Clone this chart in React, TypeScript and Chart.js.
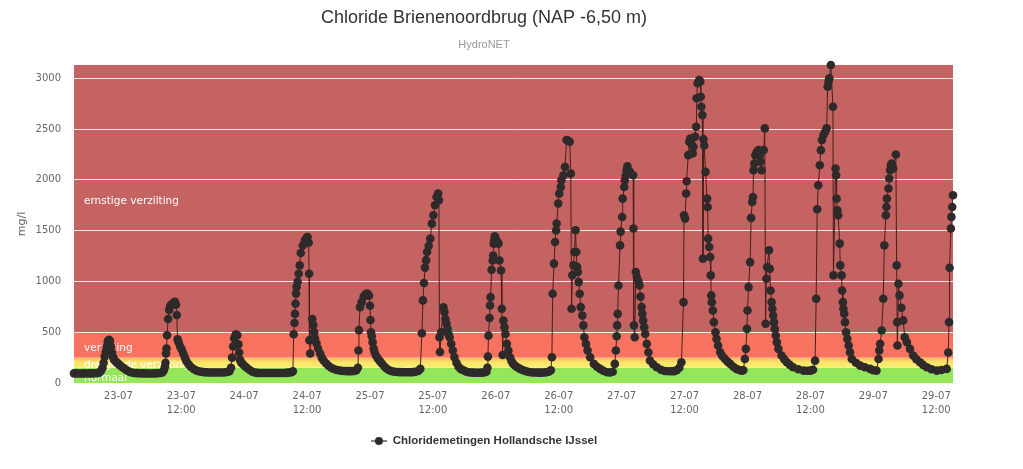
import { useEffect, useRef } from 'react';
import { Chart, registerables } from 'chart.js';

Chart.register(...registerables);

const chartTitle = 'Chloride Brienenoordbrug (NAP -6,50 m)';
const chartSubtitle = 'HydroNET';
const seriesName = 'Chloridemetingen Hollandsche IJssel';
const yAxisTitle = 'mg/l';

// x values: hours relative to 23-07 00:00
const xMin = -8.45;
const xMax = 159.2;
const xTickHours = [0, 12, 24, 36, 48, 60, 72, 84, 96, 108, 120, 132, 144, 156];
const xTickLabels: string[][] = [
  ['23-07'], ['23-07', '12:00'], ['24-07'], ['24-07', '12:00'], ['25-07'], ['25-07', '12:00'],
  ['26-07'], ['26-07', '12:00'], ['27-07'], ['27-07', '12:00'], ['28-07'], ['28-07', '12:00'],
  ['29-07'], ['29-07', '12:00'],
];
const yMin = 0;
const yMax = 3130;
const yTicks = [0, 500, 1000, 1500, 2000, 2500, 3000];

const bandNames = ['normaal', 'dreigende verzilting', 'verzilting', 'ernstige verzilting'];
const bandFrom = [0, 150, 250, 500];
const bandTo = [150, 250, 500, 3130];

// [hour, mg/l]
const dag22: [number, number][] = [
  [-8.45, 95], [-8, 95], [-7.5, 94], [-7, 94], [-6.5, 95], [-6, 94], [-5.5, 95], [-5, 95], [-4.5, 96], [-4, 97],
  [-3.6, 104], [-3.3, 120], [-3, 150], [-2.8, 200], [-2.6, 260], [-2.4, 310], [-2.2, 360], [-2, 410], [-1.8, 425],
  [-1.6, 415], [-1.4, 360], [-1.2, 300], [-1, 255], [-0.8, 230], [-0.5, 212], [-0.2, 198],
];
const dag23: [number, number][] = [
  [0.1, 185], [0.4, 170], [0.8, 155], [1.2, 140], [1.6, 125], [2, 113], [2.5, 104], [3, 99], [3.5, 97], [4, 96],
  [4.5, 95], [5, 95], [5.5, 94], [6, 94], [6.5, 94], [7, 95], [7.5, 96], [8, 98], [8.4, 104], [8.7, 125],
  [8.9, 160], [9, 200], [9.1, 290], [9.2, 340], [9.3, 470], [9.5, 630], [9.7, 720], [9.9, 760], [10.2, 775],
  [10.5, 790], [10.8, 800], [11, 770], [11.15, 670], [11.3, 430], [11.5, 400], [11.8, 360], [12.1, 330],
  [12.4, 290], [12.7, 250], [13, 215], [13.4, 185], [13.8, 160], [14.3, 140], [14.8, 125], [15.3, 116],
  [15.8, 110], [16.3, 107], [16.8, 105], [17.3, 104], [17.8, 103], [18.3, 103], [18.8, 103], [19.3, 103],
  [19.8, 104], [20.3, 105], [20.8, 108], [21.2, 115],
  [21.5, 150], [21.7, 250], [21.9, 360], [22.1, 440], [22.4, 480], [22.7, 470], [22.9, 380], [23.05, 300],
  [23.2, 230], [23.4, 205], [23.7, 188],
];
const dag24: [number, number][] = [
  [24.1, 168], [24.5, 150], [25, 130], [25.5, 113], [26, 104], [26.5, 100], [27, 99], [27.5, 98], [28, 98],
  [28.5, 98], [29, 98], [29.5, 98], [30, 98], [30.5, 98], [31, 99], [31.5, 99], [32, 100], [32.5, 102],
  [33, 106], [33.3, 115],
  [33.45, 480], [33.6, 590], [33.7, 680], [33.8, 780], [33.9, 880], [34, 945], [34.2, 995], [34.4, 1076],
  [34.6, 1158], [34.8, 1280], [35.2, 1354], [35.6, 1404], [35.9, 1430], [36.1, 1437], [36.3, 1380],
  [36.4, 1076], [36.45, 420], [36.6, 290], [36.8, 430], [37, 630], [37.2, 570], [37.35, 500], [37.5, 440],
  [37.8, 390], [38.1, 340], [38.5, 290], [38.8, 250], [39.1, 225], [39.6, 195], [40.1, 170], [40.6, 150],
  [41, 140], [41.5, 130], [42, 125], [42.5, 120], [43, 118], [43.5, 117], [44, 117], [44.5, 117], [45, 118],
  [45.4, 125],
  [45.7, 150], [45.8, 320], [45.9, 520], [46.1, 745], [46.4, 796], [46.8, 850], [47.2, 875], [47.5, 880],
  [47.8, 860],
];
const dag25: [number, number][] = [
  [48, 760], [48.1, 620], [48.2, 500], [48.35, 460], [48.5, 400], [48.7, 340], [48.9, 300], [49.2, 265],
  [49.5, 240], [49.9, 215], [50.3, 190], [50.8, 160], [51.2, 140], [51.7, 125], [52.2, 115], [52.7, 110],
  [53.2, 108], [53.7, 107], [54.2, 106], [54.7, 106], [55.2, 106], [55.7, 106], [56.2, 107], [56.7, 110],
  [57.2, 118], [57.6, 139],
  [57.9, 490], [58.1, 813], [58.3, 984], [58.5, 1136], [58.7, 1209], [58.9, 1289], [59.2, 1350], [59.5, 1421],
  [59.8, 1569], [60.1, 1651], [60.4, 1750], [60.7, 1831], [61, 1864], [61.15, 1800], [61.25, 450], [61.35, 305],
  [61.6, 500], [62, 746], [62.2, 700], [62.4, 630], [62.6, 583], [62.8, 533], [63, 480], [63.2, 451],
  [63.5, 385], [63.8, 320], [64.1, 254], [64.5, 200], [64.9, 160], [65.3, 139], [65.8, 125], [66.3, 113],
  [66.8, 106], [67.3, 103], [67.8, 102], [68.3, 101], [68.8, 101], [69.3, 102], [69.8, 104], [70.2, 110],
  [70.4, 150], [70.5, 260], [70.6, 466], [70.8, 640], [70.9, 763], [71, 845], [71.2, 1114], [71.4, 1205],
  [71.5, 1255], [71.6, 1372], [71.7, 1405], [71.8, 1444],
];
const dag26: [number, number][] = [
  [72, 1420], [72.3, 1390], [72.5, 1372], [72.7, 1205], [73, 1107], [73.15, 730], [73.3, 275], [73.45, 614],
  [73.65, 549], [73.85, 483], [74.1, 385], [74.4, 320], [74.7, 254], [75, 215], [75.3, 188], [75.7, 170],
  [76.1, 155], [76.6, 139], [77.1, 128], [77.6, 118], [78.1, 110], [78.6, 106], [79.1, 104], [79.6, 103],
  [80.1, 102], [80.6, 102], [81.1, 103], [81.6, 105], [82.1, 110], [82.5, 125],
  [82.7, 254], [82.85, 879], [83.1, 1175], [83.3, 1388], [83.5, 1501], [83.6, 1569], [83.9, 1766],
  [84.1, 1864], [84.4, 1930], [84.5, 1996], [84.9, 2045], [85.2, 2127], [85.5, 2391], [85.8, 2385],
  [86.1, 2375], [86.3, 2061], [86.45, 731], [86.6, 1060], [86.8, 1159], [87, 1290], [87.2, 1503],
  [87.35, 1290], [87.5, 1143], [87.65, 1092], [87.8, 993], [88, 879], [88.2, 747], [88.5, 665], [88.7, 567],
  [88.9, 450], [89.2, 385], [89.5, 320], [90, 254], [90.7, 188], [91.3, 160], [91.9, 139], [92.5, 120],
  [93.2, 106], [93.8, 104], [94.3, 110],
  [94.7, 188], [94.9, 320], [95.05, 460], [95.15, 567], [95.25, 680], [95.4, 960], [95.7, 1355], [95.8, 1490],
];
const dag27: [number, number][] = [
  [96.1, 1634], [96.2, 1815], [96.5, 1930], [96.6, 1996], [96.8, 2045], [96.95, 2094], [97.1, 2134],
  [97.6, 2078], [98.2, 2045], [98.25, 1520], [98.35, 567], [98.5, 450], [98.7, 1093], [98.9, 1044],
  [99.2, 1000], [99.4, 960], [99.6, 850], [99.8, 747], [99.95, 680], [100.1, 614], [100.3, 549], [100.5, 483],
  [100.8, 385], [101.1, 303], [101.4, 221], [102, 185], [102.7, 155], [103.5, 130], [104.2, 118],
  [104.9, 115], [105.5, 115], [106, 117], [106.5, 125], [107, 150],
  [107.4, 204], [107.8, 796], [107.9, 1651], [108.1, 1618], [108.3, 1865], [108.4, 1986], [108.7, 2243],
  [108.9, 2374], [109.1, 2407], [109.4, 2342], [109.55, 2260], [109.7, 2325], [110, 2423], [110.2, 2522],
  [110.3, 2802], [110.5, 2950], [110.8, 2982], [111, 2966], [111.1, 2818], [111.2, 2719], [111.4, 2637],
  [111.5, 1224], [111.6, 2400], [111.75, 2337], [112, 2078], [112.3, 1815], [112.4, 1732], [112.5, 1421],
  [112.7, 1339], [112.9, 1240], [113, 1059], [113.1, 862], [113.2, 796], [113.4, 713], [113.6, 599],
  [113.9, 500], [114.1, 434], [114.4, 369], [114.8, 303], [115.2, 265], [115.7, 237], [116.2, 210],
  [116.7, 188], [117.3, 160], [117.9, 139], [118.4, 128], [118.9, 122], [119.2, 125],
  [119.5, 237], [119.7, 336], [119.9, 533],
];
const dag28: [number, number][] = [
  [120, 713], [120.2, 944], [120.5, 1190], [120.7, 1625], [120.9, 1782], [121.05, 1831], [121.15, 2094],
  [121.3, 2160], [121.5, 2243], [121.8, 2275], [122.1, 2292], [122.3, 2243], [122.5, 2177], [122.7, 2094],
  [123.1, 2292], [123.3, 2506], [123.45, 583], [123.6, 1026], [123.75, 1141], [124.1, 1306], [124.25, 1125],
  [124.4, 911], [124.6, 796], [124.75, 730], [124.9, 664], [125.05, 599], [125.2, 533], [125.4, 467],
  [125.6, 402], [125.9, 336], [126.5, 270], [127, 235], [127.5, 204], [128.1, 178], [128.7, 155],
  [129.7, 135], [130.7, 122], [131.4, 120], [132, 122], [132.5, 130],
  [132.9, 220], [133.1, 829], [133.3, 1710], [133.5, 1947], [133.8, 2144], [134, 2292], [134.2, 2391],
  [134.5, 2440], [134.8, 2473], [135.1, 2506], [135.3, 2916], [135.45, 2966], [135.6, 3000], [135.9, 3130],
  [136.3, 2719], [136.4, 1059], [136.8, 2111], [136.9, 2045], [137, 1815], [137.15, 1700], [137.3, 1651],
  [137.6, 1372], [137.7, 1158], [137.95, 1059], [138.05, 911], [138.2, 796], [138.3, 730], [138.45, 681],
  [138.6, 599], [138.8, 500], [139.05, 434], [139.3, 369], [139.55, 303], [139.9, 237], [140.7, 200],
  [141.5, 171], [142.4, 155], [143.4, 139],
];
const dag29: [number, number][] = [
  [144, 125], [144.6, 122], [145, 237], [145.15, 320], [145.3, 386], [145.6, 517], [145.9, 829],
  [146.1, 1355], [146.4, 1651], [146.5, 1732], [146.6, 1815], [146.9, 1914], [147.05, 2013], [147.2, 2095],
  [147.35, 2144], [147.5, 2160], [147.8, 2111], [148.3, 2249], [148.45, 1158], [148.55, 599], [148.6, 369],
  [148.8, 977], [149, 862], [149.35, 740], [149.7, 616], [150, 450], [150.4, 402], [151, 336], [151.6, 270],
  [152.2, 235], [152.9, 204], [153.5, 178], [154.2, 155], [155.1, 135], [156.1, 122], [157, 128], [158, 139],
  [158.3, 300], [158.45, 599], [158.55, 1135], [158.8, 1520], [158.9, 1635], [159.05, 1733], [159.2, 1848],
];

const measurements = [...dag22, ...dag23, ...dag24, ...dag25, ...dag26, ...dag27, ...dag28, ...dag29];

const bandPlugin = {
  id: 'bands',
  beforeDraw(chart: any) {
    const { ctx, chartArea, scales } = chart;
    const y = scales.y;
    ctx.save();
    for (let i = 0; i < bandFrom.length; i++) {
      const yTop = Math.max(y.getPixelForValue(bandTo[i]), chartArea.top);
      const yBot = y.getPixelForValue(bandFrom[i]);
      let fill: any;
      if (i === 0) fill = '#96e65a';
      else if (i === 1) {
        const g = ctx.createLinearGradient(0, yBot, 0, yTop);
        g.addColorStop(0, '#f6f070');
        g.addColorStop(0.55, '#f9e46a');
        g.addColorStop(1, '#fcb45c');
        fill = g;
      } else if (i === 2) fill = '#f7735f';
      else fill = '#c56262';
      ctx.fillStyle = fill;
      ctx.fillRect(chartArea.left, yTop, chartArea.right - chartArea.left, yBot - yTop);
    }
    ctx.restore();
  },
  beforeDatasetsDraw(chart: any) {
    const { ctx, chartArea, scales } = chart;
    const y = scales.y;
    ctx.save();
    ctx.fillStyle = '#ffffff';
    ctx.font = '10.5px "DejaVu Sans"';
    ctx.textBaseline = 'middle';
    ctx.textAlign = 'left';
    for (let i = 0; i < bandNames.length; i++) {
      const mid = (bandFrom[i] + bandTo[i]) / 2;
      ctx.fillText(bandNames[i], chartArea.left + 10, y.getPixelForValue(mid) + 3);
    }
    ctx.restore();
  },
};

export default function App() {
  const canvasRef = useRef<HTMLCanvasElement>(null);

  useEffect(() => {
    document.body.style.margin = '0';
    const legendIcon = document.createElement('canvas');
    legendIcon.width = 16;
    legendIcon.height = 10;
    const lc = legendIcon.getContext('2d')!;
    lc.strokeStyle = '#333333';
    lc.lineWidth = 1.2;
    lc.beginPath();
    lc.moveTo(0, 5);
    lc.lineTo(16, 5);
    lc.stroke();
    lc.fillStyle = '#2f2a2a';
    lc.beginPath();
    lc.arc(8, 5, 4, 0, Math.PI * 2);
    lc.fill();

    const chart = new Chart(canvasRef.current!, {
      type: 'line',
      data: {
        datasets: [
          {
            label: seriesName,
            data: measurements.map(([h, v]) => ({ x: h, y: v })),
            borderColor: '#4a1e1e',
            borderWidth: 1,
            backgroundColor: '#2f2a2a',
            pointBackgroundColor: '#2f2a2a',
            pointBorderWidth: 0,
            pointRadius: 4.3,
            pointHoverRadius: 4.3,
            tension: 0,
            fill: false,
            clip: false as any,
          },
        ],
      },
      options: {
        animation: false,
        responsive: true,
        maintainAspectRatio: false,
        layout: { padding: { left: 15, right: 70, top: 0, bottom: 12.25 } },
        scales: {
          x: {
            type: 'linear',
            min: xMin,
            max: xMax,
            afterBuildTicks: (axis: any) => {
              axis.ticks = xTickHours.map((v) => ({ value: v }));
            },
            afterFit: (axis: any) => {
              axis.height = 42.25;
            },
            grid: { display: false, drawTicks: false },
            border: { display: false },
            ticks: {
              autoSkip: false,
              maxRotation: 0,
              padding: 6,
              color: '#666666',
              font: { family: 'DejaVu Sans', size: 10, lineHeight: 1.4 },
              callback: (value: any) => {
                const i = xTickHours.indexOf(Number(value));
                return i >= 0 ? xTickLabels[i] : '';
              },
            },
          },
          y: {
            type: 'linear',
            min: yMin,
            max: yMax,
            afterBuildTicks: (axis: any) => {
              axis.ticks = yTicks.map((v) => ({ value: v }));
            },
            afterFit: (axis: any) => {
              axis.width = 59;
            },
            grid: {
              drawTicks: false,
              color: (c: any) => (c.tick && c.tick.value === 0 ? 'rgba(0,0,0,0)' : 'rgba(255,255,255,0.85)'),
              lineWidth: 1,
            },
            border: { display: false },
            ticks: {
              padding: 13,
              color: '#666666',
              font: { family: 'DejaVu Sans', size: 10 },
              callback: (value: any) => String(value),
            },
            title: {
              display: true,
              text: yAxisTitle,
              color: '#666666',
              font: { family: 'DejaVu Sans', size: 11, lineHeight: 1.2 },
              padding: { top: 0.4, bottom: 0 },
            },
          },
        },
        plugins: {
          title: {
            display: true,
            text: chartTitle,
            color: '#333333',
            font: { family: 'Liberation Sans', size: 18, weight: 'normal', lineHeight: 1.2 },
            padding: { top: 7, bottom: 8 },
          },
          subtitle: {
            display: true,
            text: chartSubtitle,
            color: '#999999',
            font: { family: 'Liberation Sans', size: 11, lineHeight: 1.2 },
            padding: { top: 1.6, bottom: 13.6 },
          },
          legend: {
            display: true,
            position: 'bottom',
            labels: {
              usePointStyle: true,
              pointStyle: legendIcon as any,
              pointStyleWidth: 16,
              padding: 10,
              color: '#333333',
              font: { family: 'Liberation Sans', size: 11.5, weight: 'bold' },
            },
          },
          tooltip: { enabled: false },
        },
      } as any,
      plugins: [bandPlugin],
    });
    return () => chart.destroy();
  }, []);

  return (
    <div style={{ position: 'absolute', left: 0, top: 0, width: 1023, height: 469 }}>
      <canvas ref={canvasRef} />
    </div>
  );
}
